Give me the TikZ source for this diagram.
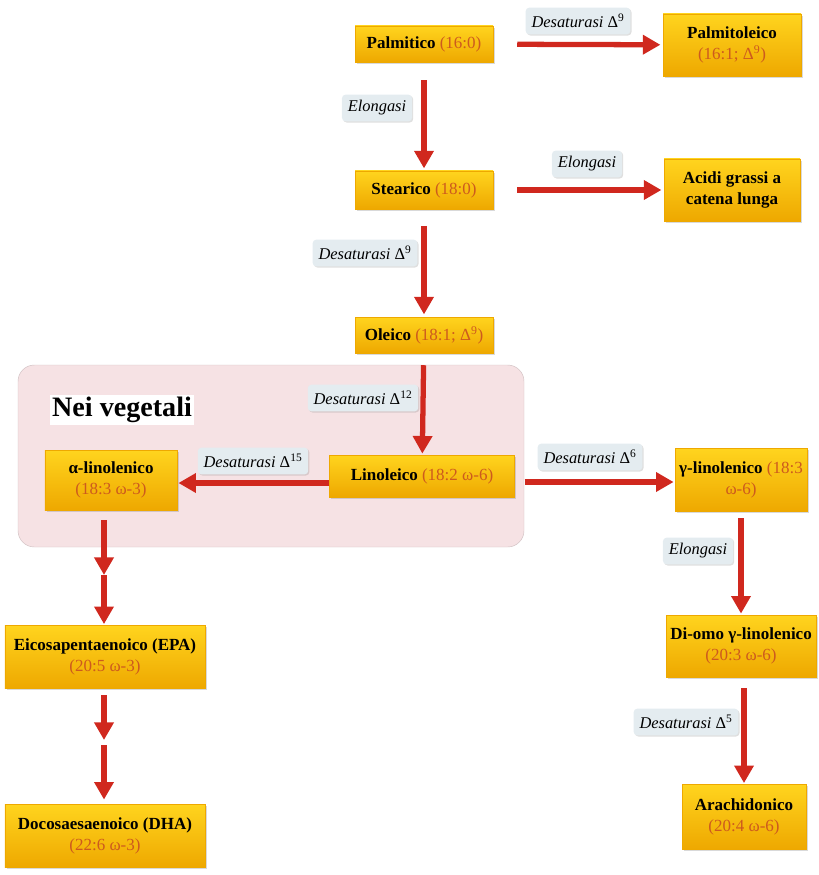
\documentclass[tikz,border=0pt]{standalone}
\usepackage{fontspec}
\setmainfont{Liberation Serif}
\usetikzlibrary{arrows.meta,shadows}

\definecolor{orochiaro}{RGB}{255,212,30}
\definecolor{oroscuro}{RGB}{238,168,0}
\definecolor{rosso}{RGB}{208,40,30}
\definecolor{numero}{RGB}{205,90,30}
\definecolor{etichetta}{RGB}{228,236,240}
\definecolor{rosa}{RGB}{246,226,228}
\newcommand{\acnum}[1]{\textcolor{numero}{\mdseries #1}}
\newcommand{\delt}[1]{\textup{Δ\textsuperscript{#1}}}

\begin{document}
\begin{tikzpicture}[x=0.03cm, y=-0.03cm,
	acido/.style={top color=orochiaro, bottom color=oroscuro, draw=oroscuro, align=center, inner sep=2pt, font=\fontsize{14.5}{18}\selectfont\bfseries, drop shadow={opacity=0.3, shadow xshift=1.5pt, shadow yshift=-1.5pt}},
	enzima/.style={fill=etichetta, rounded corners=3pt, inner xsep=5pt, minimum height=0.8cm, font=\fontsize{14}{16}\selectfont\itshape, drop shadow={opacity=0.25, shadow xshift=1pt, shadow yshift=-1pt}},
	freccia/.style={draw=rosso, line width=4.5pt, -{Triangle[length=15pt,width=16pt]}}]
	\useasboundingbox (0,0) rectangle (818,875);
	% Nei vegetali
	\draw[fill=rosa, draw=rosa!85!black, rounded corners=14pt] (18,365) rectangle (524,547);
	\node[fill=white, inner sep=2pt, font=\fontsize{24}{28}\selectfont\bfseries] (vegetali) at (122,410) {Nei vegetali};
	% acidi grassi
	\node[acido, minimum width=4.14cm, minimum height=1.08cm] (palmitico) at (424,44) {Palmitico \acnum{(16:0)}};
	\node[acido, minimum width=4.14cm, minimum height=1.86cm] (palmitoleico) at (732,45) {Palmitoleico\\ \acnum{(16:1; \delt{9})}};
	\node[acido, minimum width=4.14cm, minimum height=1.14cm] (stearico) at (424,190) {Stearico \acnum{(18:0)}};
	\node[acido, minimum width=4.08cm, minimum height=1.86cm] (acidi) at (732,190) {Acidi grassi a\\ catena lunga};
	\node[acido, minimum width=4.14cm, minimum height=1.08cm] (oleico) at (424,335) {Oleico \acnum{(18:1; \delt{9})}};
	\node[acido, minimum width=5.55cm, minimum height=1.26cm] (linoleico) at (422,476) {Linoleico \acnum{(18:2 ω-6)}};
	\node[acido, minimum width=3.96cm, minimum height=1.8cm] (alfa) at (111,480) {α-linolenico\\ \acnum{(18:3 ω-3)}};
	\node[acido, minimum width=3.96cm, minimum height=1.89cm] (gamma) at (741,480) {γ-linolenico \acnum{(18:3}\\ \acnum{ω-6)}};
	\node[acido, minimum width=6cm, minimum height=1.89cm] (epa) at (105,657) {Eicosapentaenoico (EPA)\\ \acnum{(20:5 ω-3)}};
	\node[acido, minimum width=6cm, minimum height=1.89cm] (dha) at (105,836) {Docosaesaenoico (DHA)\\ \acnum{(22:6 ω-3)}};
	\node[acido, minimum width=4.5cm, minimum height=1.86cm] (diomo) at (741,646) {Di-omo γ-linolenico\\ \acnum{(20:3 ω-6)}};
	\node[acido, minimum width=3.72cm, minimum height=1.95cm] (arachidonico) at (744,817) {Arachidonico\\ \acnum{(20:4 ω-6)}};
	\coordinate (aMid) at (104,575);
	\coordinate (eMid1) at (104,740);
	\coordinate (eMid2) at (104,745);
	% enzimi
	\node[enzima] (desPalm) at (578,21) {Desaturasi \delt{9}};
	\node[enzima] (elPalm) at (377,108) {Elongasi};
	\node[enzima] (elStear) at (587,164) {Elongasi};
	\node[enzima] (desStear) at (365,253) {Desaturasi \delt{9}};
	\node[enzima] (desOle) at (363,398) {Desaturasi \delt{12}};
	\node[enzima] (desLin) at (253,461) {Desaturasi \delt{15}};
	\node[enzima] (desGam) at (590,457) {Desaturasi \delt{6}};
	\node[enzima] (elGam) at (698,551) {Elongasi};
	\node[enzima] (desDiomo) at (686,722) {Desaturasi \delt{5}};
	% frecce
	\draw[freccia, shorten <=0.72cm, shorten >=2pt] (palmitico) -- (palmitoleico);
	\draw[freccia, shorten <=0.54cm, shorten >=2pt] (palmitico) -- (stearico);
	\draw[freccia, shorten <=0.72cm, shorten >=2pt] (stearico) -- (acidi);
	\draw[freccia, shorten <=0.5cm, shorten >=2pt] (stearico) -- (oleico);
	\draw[freccia, shorten <=0.36cm, shorten >=1pt] (oleico) -- (linoleico);
	\draw[freccia, shorten >=1pt] (linoleico.west |- 0,483) -- (alfa.east |- 0,483);
	\draw[freccia, shorten <=0.3cm, shorten >=1pt] (linoleico.east |- 0,482) -- (gamma.west |- 0,482);
	\draw[freccia, shorten <=0.3cm] (alfa.south -| aMid) -- (aMid);
	\draw[freccia, shorten >=1pt] (aMid) -- (aMid |- epa.north);
	\draw[freccia, shorten <=0.2cm] (epa.south -| eMid1) -- (eMid1);
	\draw[freccia, shorten >=4pt] (eMid2) -- (eMid2 |- dha.north);
	\draw[freccia, shorten <=0.2cm, shorten >=1pt] (gamma) -- (diomo);
	\draw[freccia, shorten <=0.33cm, shorten >=1pt] (diomo.south -| arachidonico) -- (arachidonico);
\end{tikzpicture}
\end{document}
